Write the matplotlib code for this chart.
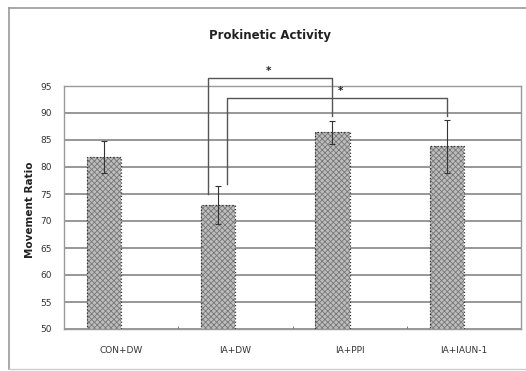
import matplotlib
matplotlib.use("Agg")
import matplotlib.pyplot as plt
from matplotlib.lines import Line2D
import numpy as np

categories = ["CON+DW", "IA+DW", "IA+PPI", "IA+IAUN-1"]
means = [81.8, 73.0, 86.4, 83.8]
errors = [3.0, 3.5, 2.1, 4.9]
yticks = [50, 55, 60, 65, 70, 75, 80, 85, 90, 95]
title = "Prokinetic Activity"
ylabel = "Movement Ratio"

# significance brackets: (left x, right x, top y, left foot y, right foot y, star x, star y)
brackets = [
    (0.763, 1.843, 96.4, 75.0, 89.4, 1.294, 97.7),
    (0.924, 2.850, 92.8, 76.8, 89.4, 1.920, 94.0),
]

plt.rcParams["font.family"] = ["DejaVu Sans"]
plt.rcParams["hatch.linewidth"] = 0.6

fig = plt.figure(figsize=(5.26, 3.71), dpi=100)
fig.patch.set_facecolor("white")
ax = fig.add_axes([64 / 526, 42 / 371, (521 - 64) / 526, (329 - 86) / 371])

x = np.arange(len(categories))
offset = -0.15
width = 0.30

ax.set_xlim(-0.5, len(categories) - 0.5)
ax.set_ylim(yticks[0], yticks[-1])
ax.set_yticks(yticks)
ax.set_yticklabels([str(v) for v in yticks], fontsize=6.5, color="#333333")
ax.yaxis.grid(True, color="#7a7a7a", linewidth=1.1)
ax.set_axisbelow(True)
ax.tick_params(axis="y", length=0, pad=9)

ax.set_xticks(x)
ax.set_xticklabels(categories, fontsize=6.5, color="#333333")
ax.tick_params(axis="x", length=0, pad=12)
ax.set_xticks([0.5, 1.5, 2.5], minor=True)
ax.tick_params(axis="x", which="minor", direction="in", length=2, color="#666666")

for s in ax.spines.values():
    s.set_color("#999999")
    s.set_linewidth(1.0)

ax.bar(x + offset, means, width=width, color="#bdbdbd", edgecolor="#777777",
       hatch="xxxxxx", linewidth=0, zorder=2)
ax.bar(x + offset, means, width=width, fill=False, edgecolor="#333333",
       linestyle=":", linewidth=0.9, zorder=3)
ax.errorbar(x + offset, means, yerr=errors, fmt="none", ecolor="#333333",
            elinewidth=0.8, capsize=2.5, capthick=0.8, zorder=4)

for (xl, xr, yt, yl, yr, sx, sy) in brackets:
    ax.plot([xl, xl, xr, xr], [yl, yt, yt, yr], color="#555555",
            linewidth=1.0, clip_on=False, zorder=5)
    ax.text(sx, sy, "*", ha="center", va="center", fontsize=7.5,
            fontweight="bold", color="#222222", clip_on=False)

fig.text(270 / 526, 1 - 35 / 371, title, ha="center", va="center",
         fontsize=8.5, fontweight="bold", color="#222222")
fig.text(30 / 526, 1 - 210 / 371, ylabel, ha="center", va="center",
         rotation=90, fontsize=7.5, fontweight="bold", color="#222222")

# outer chart-area border
fig.add_artist(Line2D([9 / 526, 1.0], [1 - 8 / 371, 1 - 8 / 371],
                      transform=fig.transFigure, color="#999999", linewidth=1.2))
fig.add_artist(Line2D([9 / 526, 9 / 526], [1 - 8 / 371, 1 - 369 / 371],
                      transform=fig.transFigure, color="#999999", linewidth=1.2))
fig.add_artist(Line2D([9 / 526, 1.0], [1 - 369 / 371, 1 - 369 / 371],
                      transform=fig.transFigure, color="#cccccc", linewidth=1.0))

fig.savefig("out.png", dpi=100, facecolor=fig.get_facecolor())
